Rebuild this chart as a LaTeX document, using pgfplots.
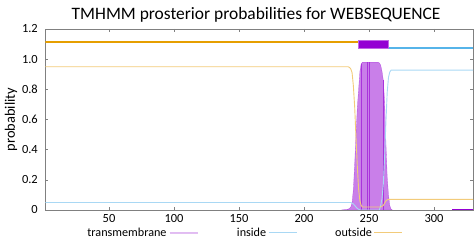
\documentclass[border=0pt]{standalone}
\usepackage{pgfplots}
\pgfplotsset{compat=1.18}
\usepackage{fontspec}
\setmainfont{Carlito}
\definecolor{tmdark}{HTML}{9400D3}
\definecolor{outc}{HTML}{E69F00}
\definecolor{inc}{HTML}{56B4E9}
\definecolor{outl}{HTML}{F2CB7A}
\definecolor{inl}{HTML}{A9D8F4}
\definecolor{tmfill}{HTML}{C680E6}
\definecolor{axgray}{HTML}{808080}

\pgfplotstableread{
x y
1 0.95
234 0.95
235 0.945
236 0.935
237 0.91
238 0.82
239 0.68
240 0.48
241 0.29
242 0.14
243 0.06
244 0.03
245 0.02
259 0.02
260 0.025
261 0.03
262 0.045
263 0.06
264 0.067
265 0.07
330 0.07
}\outside

\pgfplotstableread{
x y
1 0.05
235 0.05
236 0.05
237 0.045
238 0.04
239 0.03
240 0.02
241 0.01
242 0.005
243 0.0
258 0.0
259 0.03
260 0.075
261 0.17
262 0.35
263 0.58
264 0.78
265 0.88
266 0.915
267 0.927
330 0.927
}\inside

\pgfplotstableread{
x y
229 0
230 0.002
233 0.003
235 0.01
236 0.02
237 0.05
238 0.14
239 0.31
240 0.5
241 0.68
242 0.8
243 0.92
244 0.97
245 0.98
257 0.98
258 0.975
259 0.96
260 0.92
261 0.86
262 0.72
263 0.45
264 0.22
265 0.1
266 0.03
267 0.005
268 0
}\tm

\pgfplotstableread{
x y
244 0.97
249 0.98
250 0.98
261 0.86
}\tmdk

\begin{document}
\begin{tikzpicture}
\path[use as bounding box] (0,0) rectangle (476bp,240bp);
\begin{axis}[
  at={(45.3bp,30bp)}, anchor=south west,
  scale only axis, width=427.7bp, height=181bp,
  xmin=1, xmax=330, ymin=0, ymax=1.2,
  xtick={50,100,150,200,250,300},
  ytick={0,0.2,0.4,0.6,0.8,1.0,1.2},
  yticklabels={0,0.2,0.4,0.6,0.8,1.0,1.2},
  tick align=inside, major tick length=3bp,
  axis line style={axgray}, every tick/.style={axgray},
  tick label style={font=\fontsize{12.5}{14}\selectfont, black},
  /pgf/number format/assume math mode=true,
  xticklabel style={yshift=-1bp},
  yticklabel style={xshift=-4bp},
  title={TMHMM prosterior probabilities for WEBSEQUENCE},
  title style={font=\fontsize{17.5}{20}\selectfont, yshift=-3bp, xshift=-3bp},
  ylabel={probability},
  ylabel style={font=\fontsize{14.5}{16}\selectfont, yshift=-2bp},
  legend columns=3,
  legend plot pos=right,
  legend style={draw=none, fill=none, at={(0.465,-0.127)}, anchor=center,
    font=\fontsize{12.2}{14}\selectfont, /tikz/every even column/.append style={column sep=36bp},
    inner sep=0pt},
  legend cell align=right,
]
% top bars
\addplot[outc, line width=2bp, forget plot] coordinates {(1,1.115) (241.8,1.115)};
\addplot[inc, line width=2bp, forget plot] coordinates {(265.4,1.077) (330,1.077)};
\addplot[fill=tmdark, draw=tmdark!60, line width=0.4bp, forget plot] coordinates {(241.8,1.073) (264.9,1.073) (264.9,1.127) (241.8,1.127)} -- cycle;
% transmembrane
\addplot[fill=tmdark, fill opacity=0.5, draw=tmdark, draw opacity=0.5, line width=0.3bp,
  legend image code/.code={\draw[tmfill, line width=2.5bp] (0bp,0bp) -- (28bp,0bp);}]
  table {\tm} \closedcycle;
\addlegendentry{transmembrane}
\addplot[ycomb, tmdark!80, line width=0.5bp, forget plot] table {\tmdk};
% inside / outside
\addplot[inl, line width=0.9bp,
  legend image code/.code={\draw[inl, line width=1bp] (0bp,0bp) -- (28bp,0bp);}] table {\inside};
\addlegendentry{inside}
\addplot[outl, line width=0.9bp,
  legend image code/.code={\draw[outl, line width=1bp] (0bp,0bp) -- (28bp,0bp);}] table {\outside};
\addlegendentry{outside}
\addplot[tmdark, line width=0.8bp, forget plot] coordinates {(314,0.002) (330,0.002)};
\end{axis}
\end{tikzpicture}
\end{document}
